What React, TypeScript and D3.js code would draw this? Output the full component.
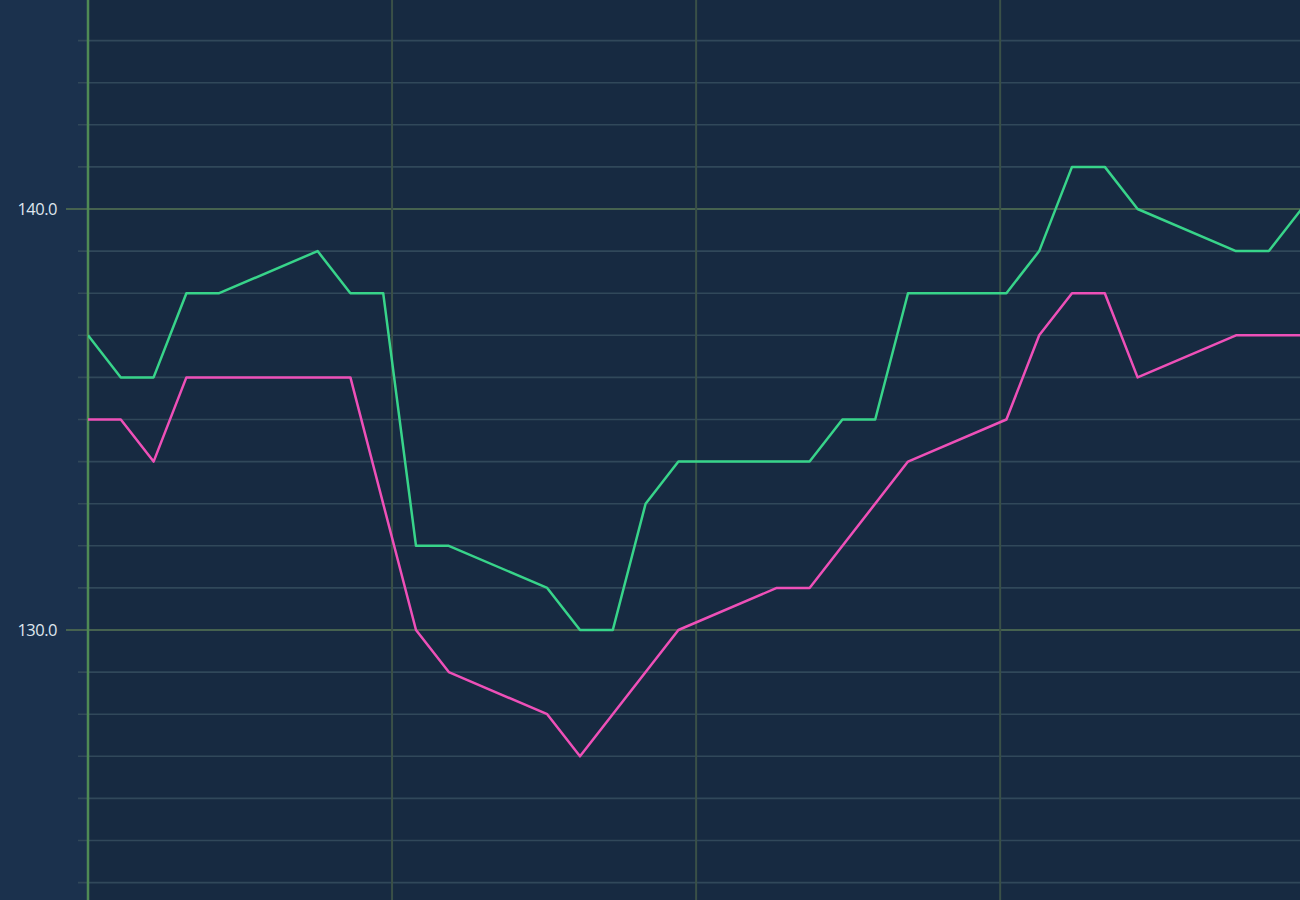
import {useEffect, useRef} from 'react';
import * as d3 from 'd3';

// sample index along the x axis (points are not present at every index)
const upperX = [0, 1, 2, 3, 4, 7, 8, 9, 10, 11, 14, 15, 16, 17, 18, 22, 23, 24, 25, 28, 29, 30, 31, 32, 35, 36, 37];
const upperY = [137, 136, 136, 138, 138, 139, 138, 138, 132, 132, 131, 130, 130, 133, 134, 134, 135, 135, 138, 138, 139, 141, 141, 140, 139, 139, 140];

const lowerX = [0, 1, 2, 3, 8, 10, 11, 14, 15, 18, 21, 22, 25, 28, 29, 30, 31, 32, 35, 37];
const lowerY = [135, 135, 134, 136, 136, 130, 129, 128, 127, 130, 131, 131, 134, 135, 137, 138, 138, 136, 137, 137];

const yLabelTicks = [130, 140];
const yMinorTicks = d3.range(124, 146, 1);
const xGridTicks = [0, 9.27, 18.54, 27.81];

const App = () => {
    const ref = useRef(null);

    useEffect(() => {
        document.body.style.margin = '0';
        const width = 1300;
        const height = 900;
        const plotLeft = 88;

        d3.select(ref.current).selectAll('*').remove();
        const svg = d3.select(ref.current)
            .attr('width', width)
            .attr('height', height)
            .style('display', 'block');

        const x = d3.scaleLinear().domain([0, 37]).range([plotLeft, plotLeft + 37 * 32.8]);
        const y = d3.scaleLinear().domain([123.587, 144.964]).range([height, 0]);

        // axis panel + plot background
        svg.append('rect').attr('width', plotLeft).attr('height', height).attr('fill', '#1b314d');
        svg.append('rect').attr('x', plotLeft).attr('width', width - plotLeft).attr('height', height).attr('fill', '#172a41');

        // horizontal grid
        svg.append('g')
            .selectAll('line')
            .data(yMinorTicks)
            .join('line')
            .attr('x1', d => yLabelTicks.includes(d) ? 66 : 78)
            .attr('x2', width)
            .attr('y1', d => y(d))
            .attr('y2', d => y(d))
            .attr('stroke', d => yLabelTicks.includes(d) ? '#46624f' : '#31485a')
            .attr('stroke-width', d => yLabelTicks.includes(d) ? 2 : 1.6);

        // vertical grid
        svg.append('g')
            .selectAll('line')
            .data(xGridTicks)
            .join('line')
            .attr('x1', d => x(d))
            .attr('x2', d => x(d))
            .attr('y1', 0)
            .attr('y2', height)
            .attr('stroke', (d, i) => i === 0 ? '#4f8a55' : '#3a5047')
            .attr('stroke-width', (d, i) => i === 0 ? 2.5 : 2);

        // y labels
        svg.append('g')
            .selectAll('text')
            .data(yLabelTicks)
            .join('text')
            .attr('x', 57)
            .attr('y', d => y(d))
            .attr('dy', '0.35em')
            .attr('text-anchor', 'end')
            .attr('fill', '#dfe6ee')
            .style('font-family', '"Open Sans", "Noto Sans", sans-serif')
            .style('font-size', '16.5px')
            .style('letter-spacing', '-0.5px')
            .text(d => d3.format('.1f')(d));

        const line = d3.line<[number, number]>()
            .x(d => x(d[0]))
            .y(d => y(d[1]));

        const clip = svg.append('defs').append('clipPath').attr('id', 'plot-clip');
        clip.append('rect').attr('x', plotLeft).attr('width', width - plotLeft).attr('height', height);

        const series = [
            {xs: lowerX, ys: lowerY, color: '#ee50b8'},
            {xs: upperX, ys: upperY, color: '#38d48a'},
        ];

        svg.append('g')
            .attr('clip-path', 'url(#plot-clip)')
            .selectAll('path')
            .data(series)
            .join('path')
            .attr('d', s => line(s.xs.map((v, i) => [v, s.ys[i]] as [number, number])))
            .attr('fill', 'none')
            .attr('stroke', s => s.color)
            .attr('stroke-width', 2.5)
            .attr('stroke-linejoin', 'round');
    }, []);

    return <svg ref={ref}></svg>;
};

export default App;
